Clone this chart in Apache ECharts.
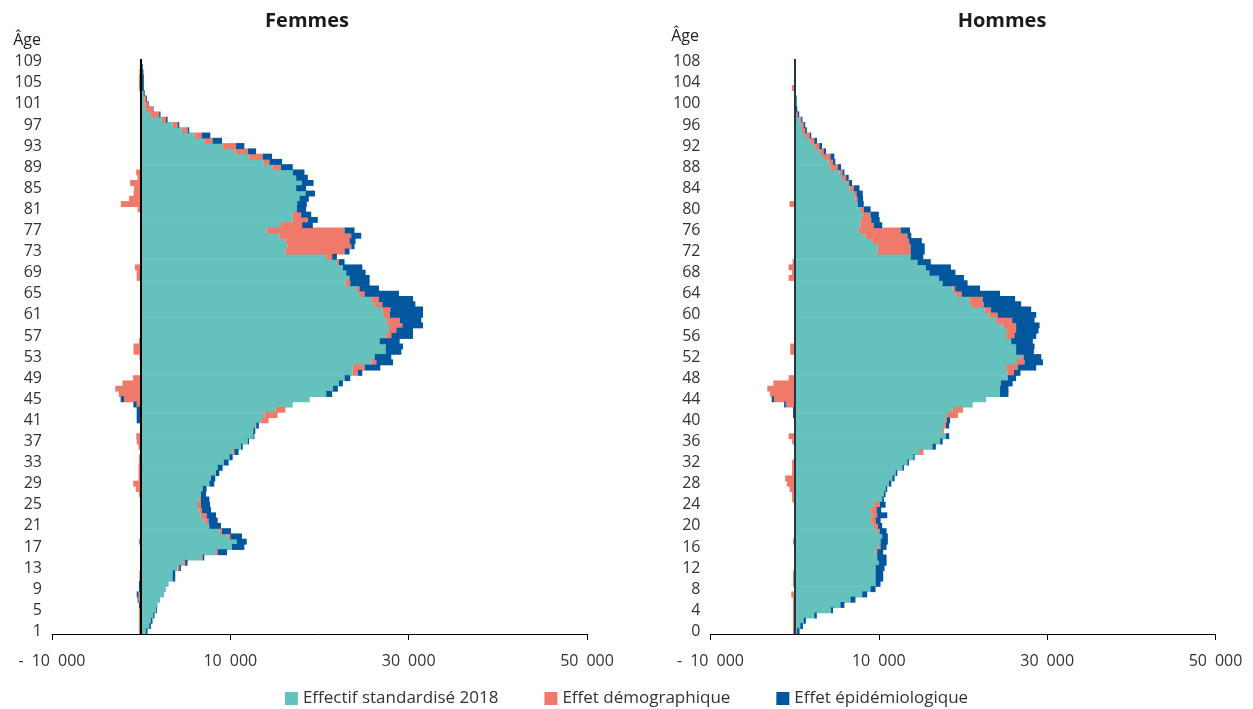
<!DOCTYPE html>
<html>
<head>
<meta charset="utf-8">
<script src="https://cdn.jsdelivr.net/npm/echarts@6/dist/echarts.min.js"></script>
<style>
html,body{margin:0;padding:0;background:#fff;}
#chart{width:1253px;height:709px;}
</style>
</head>
<body>
<div id="chart"></div>
<script>
// Series names
const seriesNames = ['Effectif standardisé 2018', 'Effet démographique', 'Effet épidémiologique'];
const colors = ['#64C1BC', '#F07A6A', '#00579E'];

// Age categories
const agesF = []; for (let a = 1; a <= 109; a++) agesF.push(String(a));
const agesH = []; for (let a = 0; a <= 108; a++) agesH.push(String(a));

// Femmes (ages 1..109)
const fTeal = [
 520, 900, 1090, 1350, 1650, 1830, 2130, 2580, 2770, 3070,
 3520, 3520, 4080, 4720, 6700, 8390, 10190, 10710, 9700, 8760,
 7640, 7080, 6700, 6520, 6260, 6520, 6700, 6890, 7640, 7830,
 8390, 8580, 9250, 9890, 10260, 11200, 11950, 12580, 12580, 12800,
 13450, 13820, 15060, 17000, 18900, 20750, 21500, 22170, 22810, 23740,
 23740, 25810, 26180, 27420, 27420, 26740, 27490, 27790, 27790, 27490,
 27230, 27040, 26180, 25810, 24420, 24120, 22920, 23370, 23000, 22620,
 21950, 20750, 16180, 16440, 16180, 15500, 14080, 15690, 17000, 17000,
 17450, 17490, 17750, 18430, 17380, 18010, 17380, 17000, 14760, 13750,
 12060, 10560, 9140, 7080, 5960, 4570, 3520, 2320, 1010, 520,
 410, 340, 260, 50, 50, 50, 50, 30, 0
];
const fDemo = [
 -250, -250, -250, -250, -250, 0, -300, -300, 0, 0,
 -200, -200, 190, 220, 190, 190, 0, -250, 300, 300,
 0, 480, 640, 300, 440, 190, -250, -600, -900, -300,
 -300, -300, -250, -250, 190, -300, -500, -550, 0, 100,
 850, 1480, 1120, -500, -1900, -2500, -2900, -2100, -900, 570,
 1320, 560, -200, -860, -860, -250, 560, 820, 1500, 1500,
 640, 900, 860, 860, 640, 370, 530, -500, -500, -700,
 220, 670, 6630, 7120, 7190, 8060, 8730, 2360, 1690, 940,
 -400, -2280, -1350, -860, -790, -1240, -410, -560, 930, 630,
 1570, 1390, 1500, 930, 820, 630, 560, 450, 1010, 790,
 380, 180, 0, -250, -250, -250, -200, -150, 0
];
const fEpi = [
 190, 190, 180, 150, 110, -250, -100, -200, -250, -250,
 300, 300, 190, 260, 190, 1050, 1380, 1130, 1310, 1010,
 1310, 1020, 1050, 1010, 1020, 940, 570, 450, 560, 480,
 370, 560, 560, 370, 480, 190, 150, 120, 220, 300,
 -500, -500, -500, -370, -400, 670, 560, 450, 640, 490,
 1760, 1870, 1870, 1760, 1940, 2250, 2440, 1880, 2320, 2430,
 3740, 3670, 3710, 3820, 3850, 2180, 2170, 2250, 2170, 2180,
 640, 530, 560, 370, 670, 1120, 1120, 1200, 1120, 1130,
 1050, 1090, 1050, 1070, 1120, 1320, 1310, 1310, 1310, 1420,
 1050, 940, 930, 1060, 970, 190, 190, 190, 150, 70,
 70, 120, 140, 250, 250, 250, 200, 150, 0
];

// Hommes (ages 0..108)
const hTeal = [
 260, 660, 1050, 2330, 4320, 5430, 6620, 8020, 9010, 9610,
 9610, 9610, 9610, 10000, 9810, 9610, 10000, 10200, 10400, 9880,
 9410, 9010, 9210, 9010, 9410, 10400, 10600, 10800, 11200, 11600,
 11990, 12790, 13390, 14100, 14780, 16370, 17280, 17960, 17560, 17760,
 17880, 18100, 18800, 21150, 22730, 24400, 24400, 24500, 25320, 25320,
 25120, 26310, 26910, 26310, 26310, 25720, 25120, 25240, 24720, 23930,
 23130, 22530, 20940, 20740, 19150, 18760, 17560, 17160, 16000, 15570,
 14580, 13780, 9880, 9880, 9210, 8410, 7620, 7820, 7900, 8130,
 7740, 7500, 7220, 7020, 6540, 6230, 5630, 5350, 4240, 4040,
 3360, 2920, 2330, 1850, 1250, 860, 780, 580, 140, 60,
 30, 30, 0, 0, 0, 0, 0, 0, 0
];
const hDemo = [
 -200, -200, -200, -200, -200, -200, -200, -400, 0, -200,
 -200, -200, 0, 0, 0, 200, 200, -200, 0, 240,
 470, 600, 600, 720, 710, -300, -300, -600, -930, -1130,
 -300, -300, -300, 0, 520, 0, -300, -720, 200, 200,
 200, 1300, 1200, -1050, -2450, -2920, -3250, -2530, -720, 720,
 1390, 1000, 320, -530, -530, 0, 990, 1070, 1590, 1910,
 1000, 800, 1510, 1590, 720, 310, 0, -720, -300, -720,
 -250, 0, 3900, 3900, 4400, 4980, 4970, 1590, 1200, 880,
 480, -620, 240, 320, 480, 240, 480, 320, 870, 520,
 880, 520, 590, 480, 520, 390, 270, 200, 200, 50,
 0, 0, 0, -330, 0, 0, 0, 0, 0
];
const hEpi = [
 320, 320, 280, 300, 240, 480, 600, 590, 600, 590,
 910, 910, 1070, 920, 1110, 710, 720, 870, 670, 800,
 520, 600, 1190, 550, 680, 200, 200, 200, 280, 270,
 200, 190, 190, 160, 0, 400, 300, 400, 0, 400,
 390, -200, -200, -200, -280, 1000, 1000, 1400, 990, 790,
 2190, 2190, 2070, 2110, 2190, 2580, 2590, 2660, 2790, 2660,
 4570, 4770, 4460, 3860, 4530, 2950, 2990, 2950, 3100, 2990,
 1590, 1500, 1670, 1670, 1500, 470, 1110, 990, 1000, 990,
 800, 710, 670, 750, 680, 350, 310, 240, 400, 270,
 470, 280, 330, 320, 200, 200, 200, 150, 200, 200,
 200, 200, 50, 0, 0, 0, 0, 0, 0
];

const FONT = '"Open Sans", "Noto Sans", sans-serif';

function fmtNum(v) {
  const s = String(Math.abs(v)).replace(/\B(?=(\d{3})+(?!\d))/g, '\u2002');
  return v < 0 ? '-\u2002' + s : s;
}

function xAxisFor(idx) {
  return {
    type: 'value', gridIndex: idx, min: -10000, max: 50000, interval: 20000,
    axisLine: { show: true, onZero: false, lineStyle: { color: '#000', width: 1 } },
    axisTick: { show: true, length: 6, lineStyle: { color: '#000' } },
    splitLine: { show: false },
    axisLabel: { formatter: fmtNum, fontSize: 16, color: '#333', margin: 19, fontFamily: FONT }
  };
}
function yAxisFor(idx, cats) {
  return {
    type: 'category', gridIndex: idx, data: cats, boundaryGap: true,
    axisLine: { show: false }, axisTick: { show: false },
    axisLabel: { interval: 3, fontSize: 16, color: '#333', margin: 10, fontFamily: FONT }
  };
}
function seriesFor(idx, stack, arrs, zeroColor) {
  return arrs.map((arr, i) => {
    const s = {
      name: seriesNames[i], type: 'bar', stack: stack,
      xAxisIndex: idx, yAxisIndex: idx,
      barWidth: 5.9, data: arr,
      itemStyle: { color: colors[i] },
      emphasis: { disabled: true }
    };
    if (i === arrs.length - 1) {
      s.markLine = {
        silent: true, symbol: 'none', label: { show: false },
        lineStyle: { color: zeroColor, width: 2, type: 'solid' },
        data: [{ xAxis: 0 }]
      };
    }
    return s;
  });
}

const chart = echarts.init(document.getElementById('chart'), null, { renderer: 'canvas' });
chart.setOption({
  animation: false,
  textStyle: { fontFamily: FONT },
  title: [
    { text: 'Femmes', left: 302, top: 6, textAlign: 'center',
      textStyle: { fontSize: 20, fontWeight: 'bold', color: '#1a1a1a', fontFamily: FONT } },
    { text: 'Hommes', left: 997, top: 6, textAlign: 'center',
      textStyle: { fontSize: 20, fontWeight: 'bold', color: '#1a1a1a', fontFamily: FONT } }
  ],
  legend: {
    data: seriesNames, top: 685, left: 'center', icon: 'rect',
    itemWidth: 13, itemHeight: 13, itemGap: 46,
    textStyle: { fontSize: 17, color: '#333', fontFamily: FONT }
  },
  graphic: [
    { type: 'text', style: { text: 'Âge', x: 41, y: 40, align: 'right', verticalAlign: 'middle',
      font: '16px "Open Sans"', fill: '#222' } },
    { type: 'text', style: { text: 'Âge', x: 699, y: 36, align: 'right', verticalAlign: 'middle',
      font: '16px "Open Sans"', fill: '#222' } }
  ],
  grid: [
    { left: 52, top: 59, width: 535, height: 575 },
    { left: 710.5, top: 59, width: 505, height: 575 }
  ],
  xAxis: [xAxisFor(0), xAxisFor(1)],
  yAxis: [yAxisFor(0, agesF), yAxisFor(1, agesH)],
  series: [].concat(
    seriesFor(0, 'F', [fTeal, fDemo, fEpi], '#000000'),
    seriesFor(1, 'H', [hTeal, hDemo, hEpi], '#1e3a3d')
  )
});
</script>
</body>
</html>
